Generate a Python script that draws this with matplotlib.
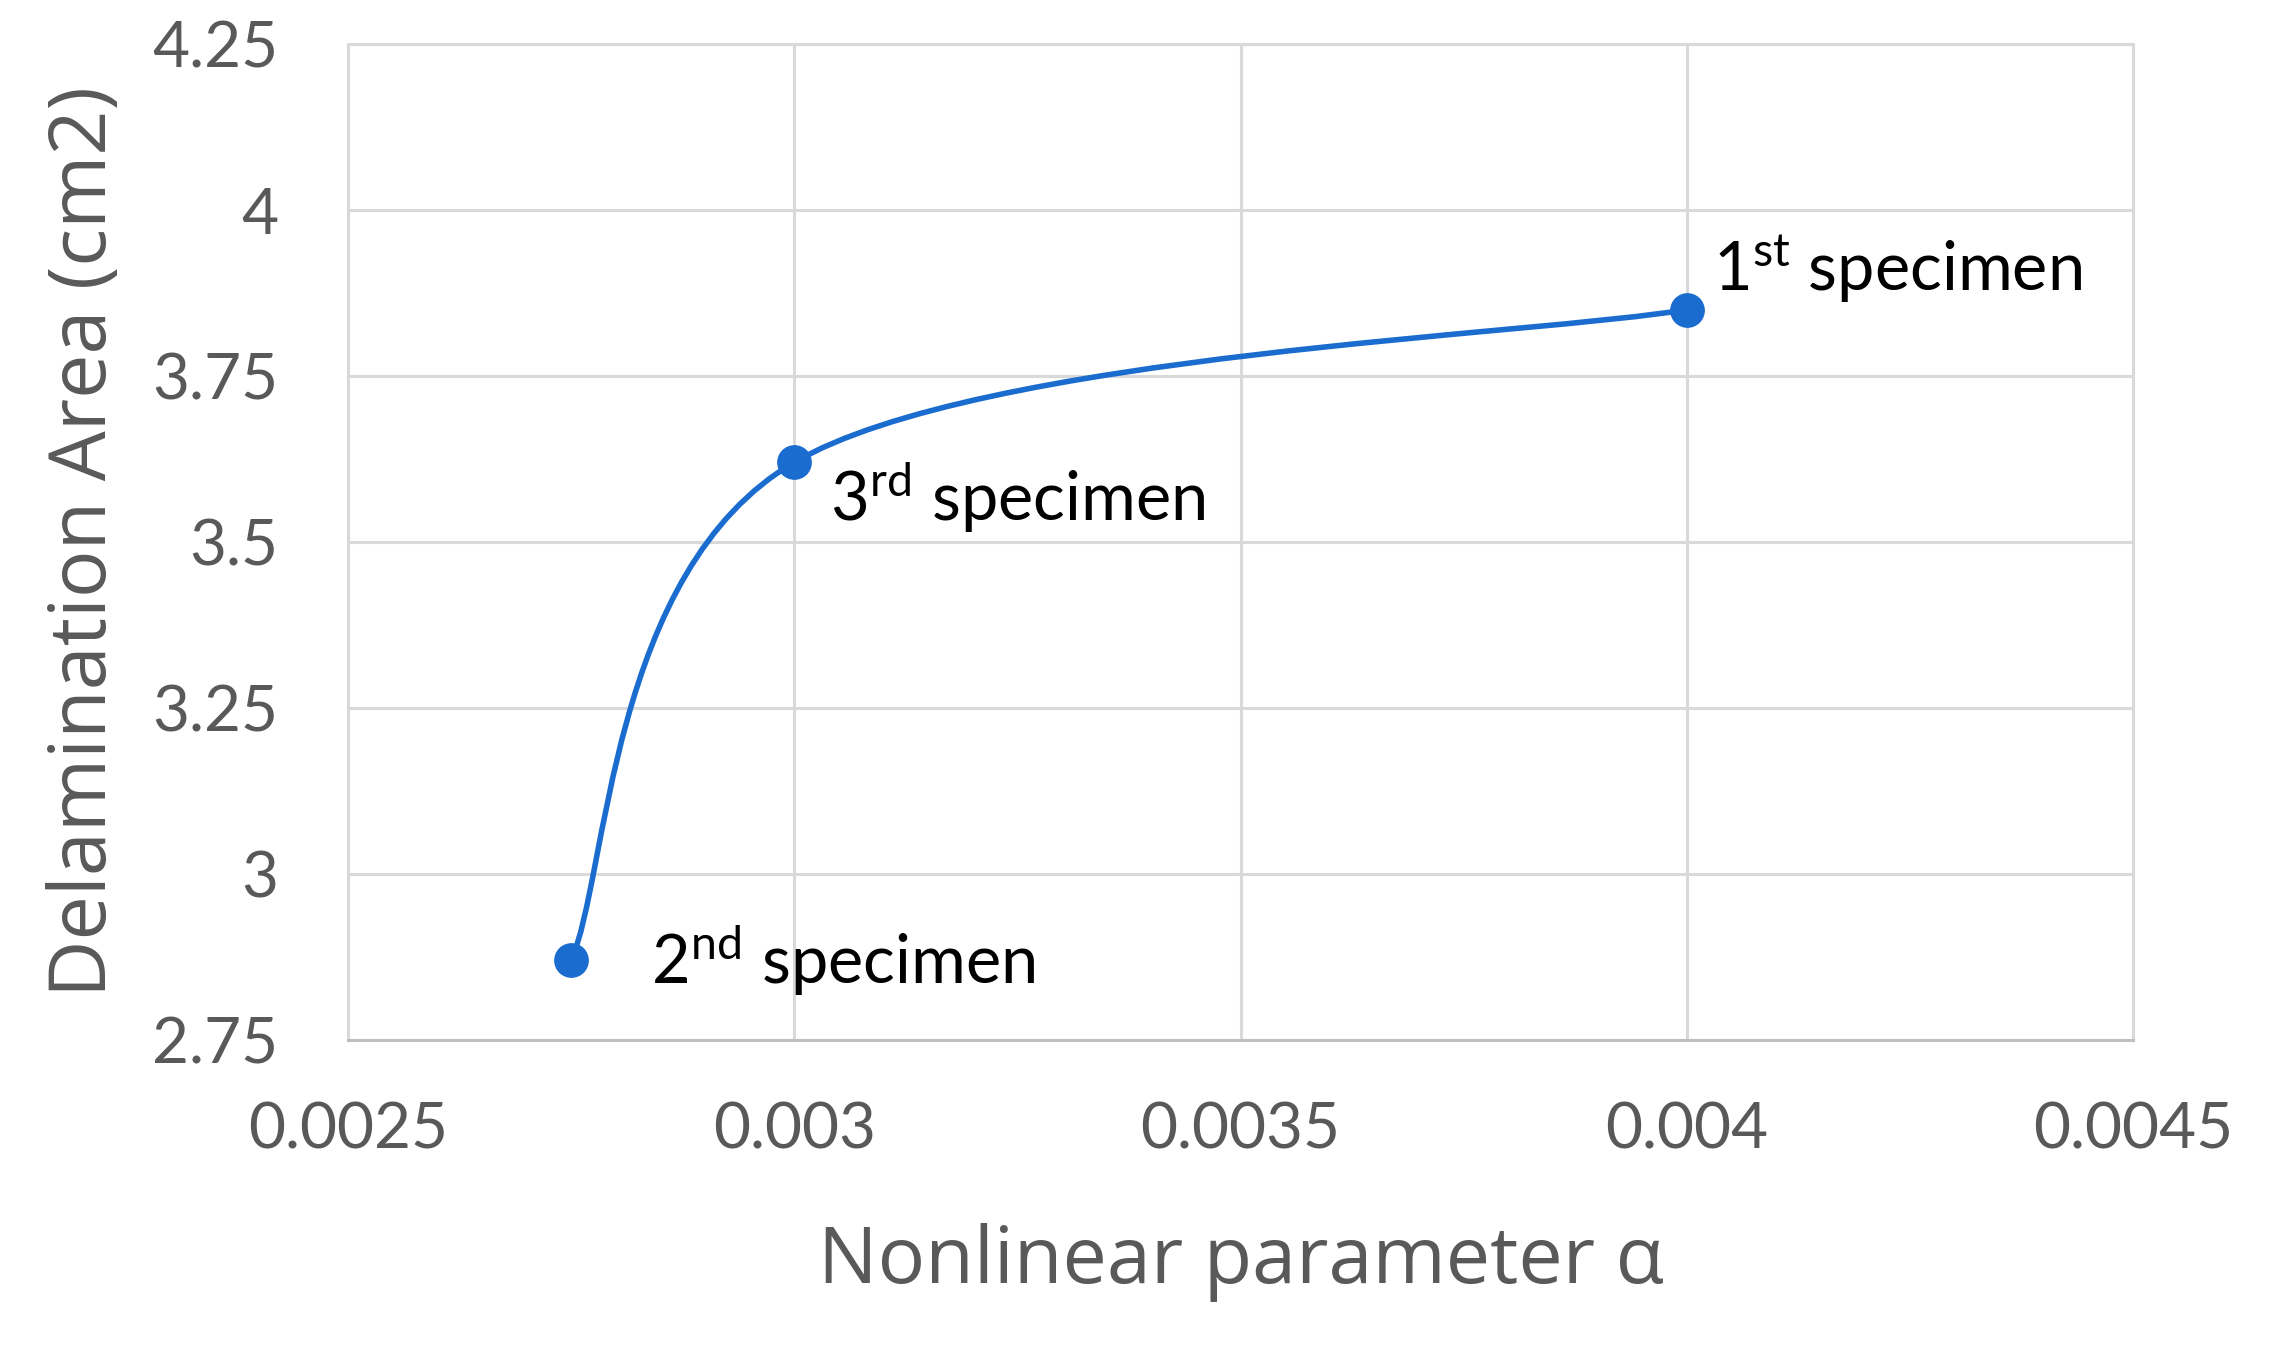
import numpy as np
import matplotlib
matplotlib.use("Agg")
import matplotlib.pyplot as plt
from matplotlib.path import Path
from matplotlib.patches import PathPatch

# data
alpha = [0.00275, 0.003, 0.004]
area = [2.87, 3.62, 3.85]
labels = ["2$^{\\mathrm{nd}}$ specimen", "3$^{\\mathrm{rd}}$ specimen", "1$^{\\mathrm{st}}$ specimen"]
label_offsets = [(80, 0), (36, -35), (26, 41)]  # pixels from the point

xticks = [0.0025, 0.003, 0.0035, 0.004, 0.0045]
xticklabels = ["0.0025", "0.003", "0.0035", "0.004", "0.0045"]
yticks = [2.75, 3, 3.25, 3.5, 3.75, 4, 4.25]
yticklabels = ["2.75", "3", "3.25", "3.5", "3.75", "4", "4.25"]

blue = "#1b6ccf"
grey_txt = "#595959"

plt.rcParams["font.family"] = ["Lato", "DejaVu Sans"]
plt.rcParams["mathtext.fontset"] = "custom"
plt.rcParams["mathtext.rm"] = "Lato"
plt.rcParams["mathtext.it"] = "Lato:italic"

fig = plt.figure(figsize=(22.75, 13.48), dpi=100)
ax = fig.add_axes([348 / 2275, 1 - 1040 / 1348, (2133 - 348) / 2275, (1040 - 44) / 1348])

ax.set_xlim(0.0025, 0.0045)
ax.set_ylim(2.75, 4.25)
ax.set_xticks(xticks)
ax.set_xticklabels(xticklabels)
ax.set_yticks(yticks)
ax.set_yticklabels(yticklabels)
ax.tick_params(length=0, labelsize=46, labelcolor=grey_txt)
ax.tick_params(axis="y", pad=50)
ax.tick_params(axis="x", pad=44)
ax.grid(True, color="#d9d9d9", linewidth=2.2)
ax.set_axisbelow(True)
for s in ax.spines.values():
    s.set_color("#d9d9d9")
    s.set_linewidth(2.2)
ax.spines["bottom"].set_color("#bfbfbf")

# smoothed line like excel (catmull-rom style bezier through the points)
pts = np.column_stack([alpha, area])
n = len(pts)
verts = [pts[0]]
codes = [Path.MOVETO]
for i in range(n - 1):
    p_prev = pts[i - 1] if i > 0 else pts[i]
    p_next2 = pts[i + 2] if i + 2 < n else pts[i + 1]
    c1 = pts[i] + (pts[i + 1] - p_prev) / 6
    c2 = pts[i + 1] - (p_next2 - pts[i]) / 6
    verts += [c1, c2, pts[i + 1]]
    codes += [Path.CURVE4] * 3
ax.add_patch(PathPatch(Path(verts, codes), facecolor="none", edgecolor=blue, lw=4, zorder=3))
ax.plot(alpha, area, "o", color=blue, markersize=24, zorder=4)

for x, y, t, off in zip(alpha, area, labels, label_offsets):
    ax.annotate(t, (x, y), xytext=off, textcoords="offset pixels",
                ha="left", va="center", fontsize=48, color="black")

ax.set_xlabel("Nonlinear parameter α", fontsize=57, color=grey_txt,
              family=["Open Sans", "DejaVu Sans"], labelpad=46)
ax.set_ylabel("Delamination Area (cm2)", fontsize=57, color=grey_txt,
              family=["Open Sans", "DejaVu Sans"], labelpad=20)

fig.savefig("out.png", dpi=100)
